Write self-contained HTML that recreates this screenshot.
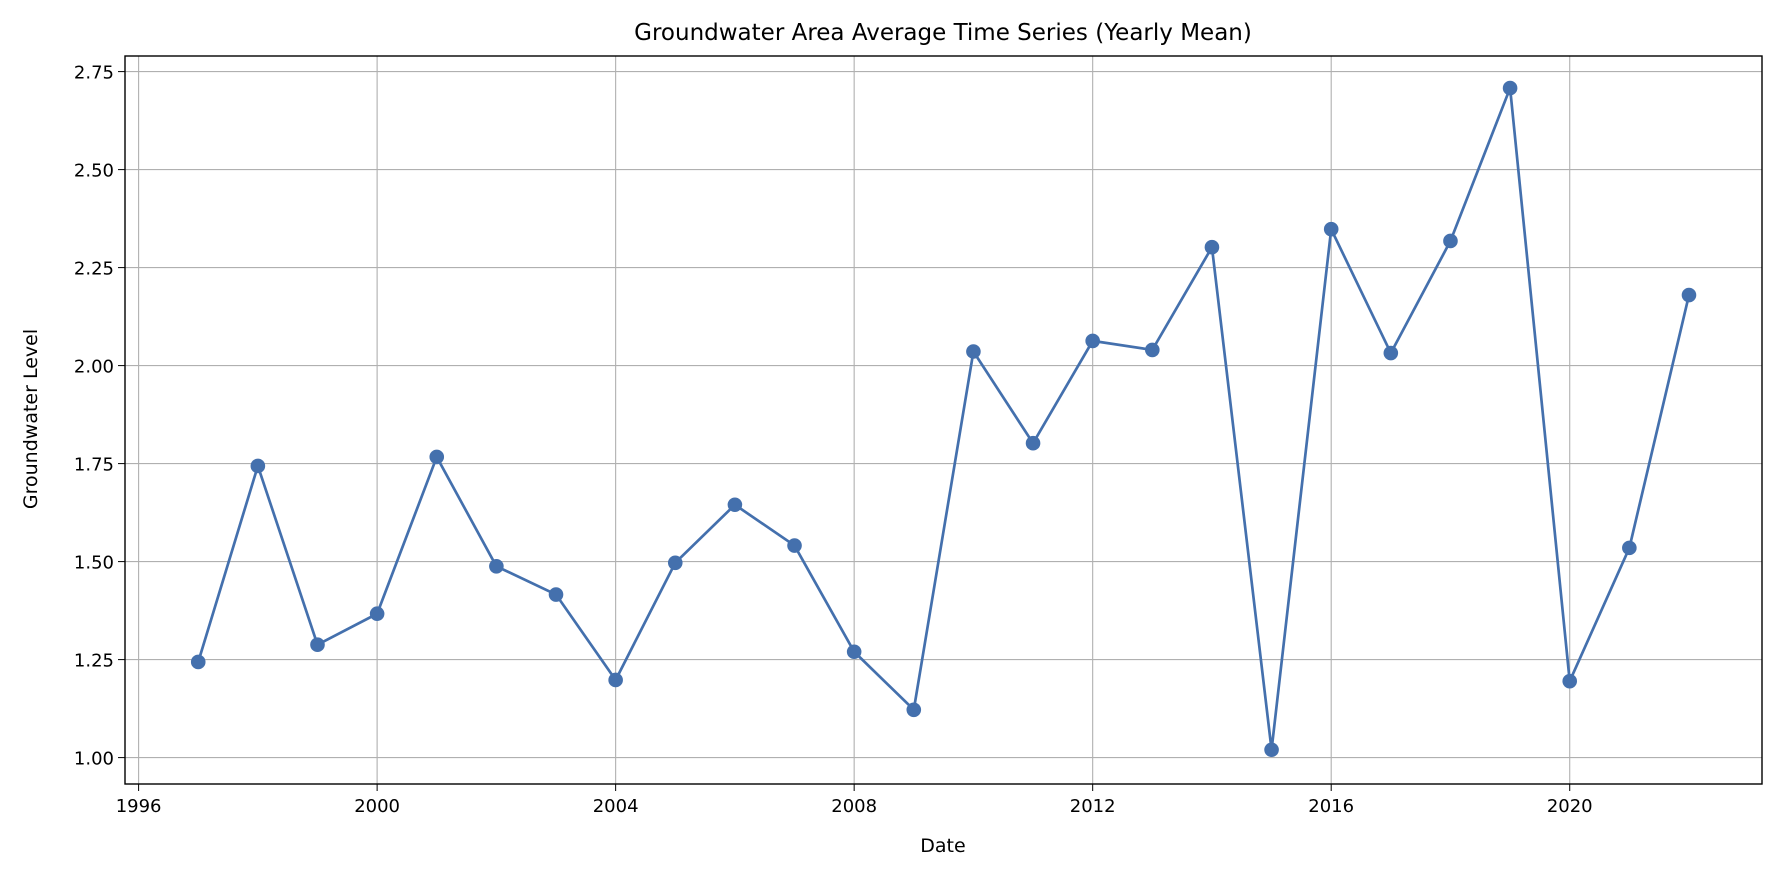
<!DOCTYPE html>
<html><head><meta charset="utf-8"><style>
html,body{margin:0;padding:0;background:#fff;}
svg{display:block;font-family:"DejaVu Sans","Liberation Sans",sans-serif;}
</style></head><body>
<svg id="chart" width="1781" height="877" viewBox="0 0 1781 877">
<text x="943" y="40" font-size="23" text-anchor="middle" fill="#000">Groundwater Area Average Time Series (Yearly Mean)</text>
<g id="grid"></g>
<g id="xticks"></g>
<g id="yticks"></g>
<g id="series"></g>
<rect x="125" y="56" width="1637" height="728" fill="none" stroke="#000" stroke-width="1.4"/>
<text x="943" y="852" font-size="19" text-anchor="middle">Date</text>
<text x="37" y="419" font-size="19" text-anchor="middle" transform="rotate(-90 37 419)">Groundwater Level</text>
</svg>
<script>
const years=[1997,1998,1999,2000,2001,2002,2003,2004,2005,2006,2007,2008,2009,2010,2011,2012,2013,2014,2015,2016,2017,2018,2019,2020,2021,2022];
const levels=[1.244,1.744,1.288,1.367,1.767,1.488,1.416,1.198,1.497,1.645,1.541,1.270,1.122,2.036,1.802,2.063,2.040,2.302,1.020,2.348,2.032,2.318,2.708,1.195,1.535,2.180];
const xTickLabels=[1996,2000,2004,2008,2012,2016,2020];
const yTickLabels=[1.00,1.25,1.50,1.75,2.00,2.25,2.50,2.75];
const L=125,R=1762,T=56,B=784;
const x=v=>138.6+(v-1996)*59.63;
const y=v=>757.6-(v-1)*392;
const NS='http://www.w3.org/2000/svg';
function mk(tag,attrs,parent){const e=document.createElementNS(NS,tag);for(const k in attrs)e.setAttribute(k,attrs[k]);parent.appendChild(e);return e;}
const grid=document.getElementById('grid'),xt=document.getElementById('xticks'),yt=document.getElementById('yticks'),ser=document.getElementById('series');
xTickLabels.forEach(t=>{const px=x(t);
 const g=mk('line',{x1:px,x2:px,y1:T,y2:B,stroke:'#b0b0b0','stroke-width':1.1},grid);
 
 
 mk('line',{x1:px,x2:px,y1:B,y2:B+7,stroke:'#000'},xt);
 const tx=mk('text',{x:px,y:B+28,'font-size':18,'text-anchor':'middle'},xt);tx.textContent=t;
 
 
});
yTickLabels.forEach(t=>{const py=y(t);
 const g=mk('line',{x1:L,x2:R,y1:py,y2:py,stroke:'#b0b0b0','stroke-width':1.1},grid);
 
 
 mk('line',{x1:L-7,x2:L,y1:py,y2:py,stroke:'#000'},yt);
 const tx=mk('text',{x:L-11,y:py+7,'font-size':18,'text-anchor':'end'},yt);tx.textContent=t.toFixed(2);
 
 
});
const pts=years.map((yr,i)=>x(yr)+','+y(levels[i])).join(' ');
const pl=mk('polyline',{points:pts,fill:'none',stroke:'#4470ad','stroke-width':2.7},ser);


years.forEach((yr,i)=>{const c=mk('circle',{cx:x(yr),cy:y(levels[i]),r:7.3,fill:'#4470ad'},ser);
 
 
});
</script>
</body></html>
